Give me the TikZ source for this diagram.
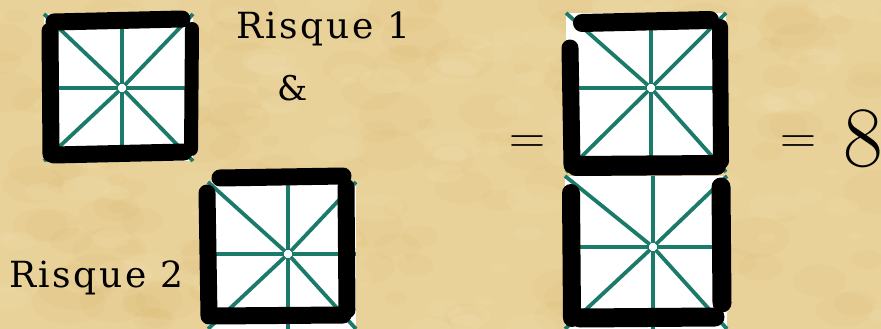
\documentclass[tikz,border=0pt]{standalone}
\usepackage{fontspec}
\newfontfamily\labfont[LetterSpace=7]{DejaVu Serif}
\newfontfamily\ampfont{DejaVu Serif}
\definecolor{parch}{RGB}{233,210,153}
\definecolor{parchdark}{RGB}{214,180,105}
\definecolor{parchlight}{RGB}{245,230,190}
\definecolor{starteal}{RGB}{27,122,105}
\tikzset{
  ray/.style={draw=starteal, line width=3.8pt, shorten <=4pt},
  inkstroke/.style={draw=black, line width=17pt, line cap=round},
  lbl/.style={inner sep=0pt, anchor=base west, font=\labfont\fontsize{36}{42}\selectfont},
  eqsign/.style={inner sep=0pt, anchor=base west, font=\fontsize{50}{58}\selectfont},
}
% #1 x1, #2 y1, #3 x2, #4 y2, #5 cx, #6 cy
\newcommand\drawtile[6]{%
  \fill[white] (#1,#2) rectangle (#3,#4);
  \foreach \px/\py in {#1/#2,#5/#2,#3/#2,#3/#6,#3/#4,#5/#4,#1/#4,#1/#6}
    \draw[ray] (#5,#6) -- (\px,\py);
}
\begin{document}
\begin{tikzpicture}[x=1pt,y=-1pt]
\useasboundingbox (0,0) rectangle (881,329);
\fill[parch] (0,0) rectangle (881,329);
% subtle parchment mottling
\pgfmathsetseed{7}
\foreach \i in {1,...,160}{
  \pgfmathsetmacro{\bx}{rnd*881}
  \pgfmathsetmacro{\by}{rnd*329}
  \pgfmathsetmacro{\br}{8+rnd*30}
  \fill[parchdark, opacity=0.10] (\bx,\by) ellipse ({\br} and {\br*0.6});
}
\foreach \i in {1,...,120}{
  \pgfmathsetmacro{\bx}{rnd*881}
  \pgfmathsetmacro{\by}{rnd*329}
  \pgfmathsetmacro{\br}{6+rnd*24}
  \fill[parchlight, opacity=0.15] (\bx,\by) ellipse ({\br} and {\br*0.5});
}

% tile 1 (top left)
\drawtile{44}{14}{193}{161}{122}{88}
\draw[inkstroke] (54,22) -- (182,19);
\draw[inkstroke] (50,31) -- (51,154);
\draw[inkstroke] (54,155) -- (184,152);
\draw[inkstroke, line width=14pt] (192,29) -- (191,149);

% tile 2 (bottom middle)
\drawtile{208}{182}{356}{329}{288}{254}
\draw[inkstroke] (220,178) -- (343,176);
\draw[inkstroke] (207,193) -- (209,316);
\draw[inkstroke] (213,316) -- (343,315);
\draw[inkstroke] (346,187) -- (347,310);

% tile 3 (right top)
\drawtile{566}{13}{726}{172}{651}{88}
\draw[inkstroke, line width=18pt] (582,23) -- (710,20);
\draw[inkstroke] (570,48) -- (572,165);
\draw[inkstroke, line width=18pt] (576,165) -- (717,164);
\draw[inkstroke, line width=16pt] (720,27) -- (721,161);

% tile 4 (right bottom)
\drawtile{565}{176}{727}{329}{653}{247}
\draw[inkstroke, line width=18pt] (576,167) -- (717,166);
\draw[inkstroke, line width=18pt] (571,193) -- (572,318);
\draw[inkstroke, line width=19pt] (721,187) -- (722,303);
\draw[inkstroke, line width=19pt] (580,318) -- (715,317);

% labels
\node[lbl] (r1) at (236,39) {Risque 1};
\node[inner sep=0pt, anchor=base, font=\ampfont\fontsize{34}{40}\selectfont] (amp) at (293,100) {\&};
\node[lbl] (r2) at (9,287) {Risque 2};
\node[eqsign] (eq1) at (509,153) {=};
\node[eqsign] (eq2) at (780,153) {=};
\node[inner sep=0pt, anchor=base west, font=\fontsize{86}{96}\selectfont] (eight) at (843,166) {8};
\end{tikzpicture}
\end{document}
